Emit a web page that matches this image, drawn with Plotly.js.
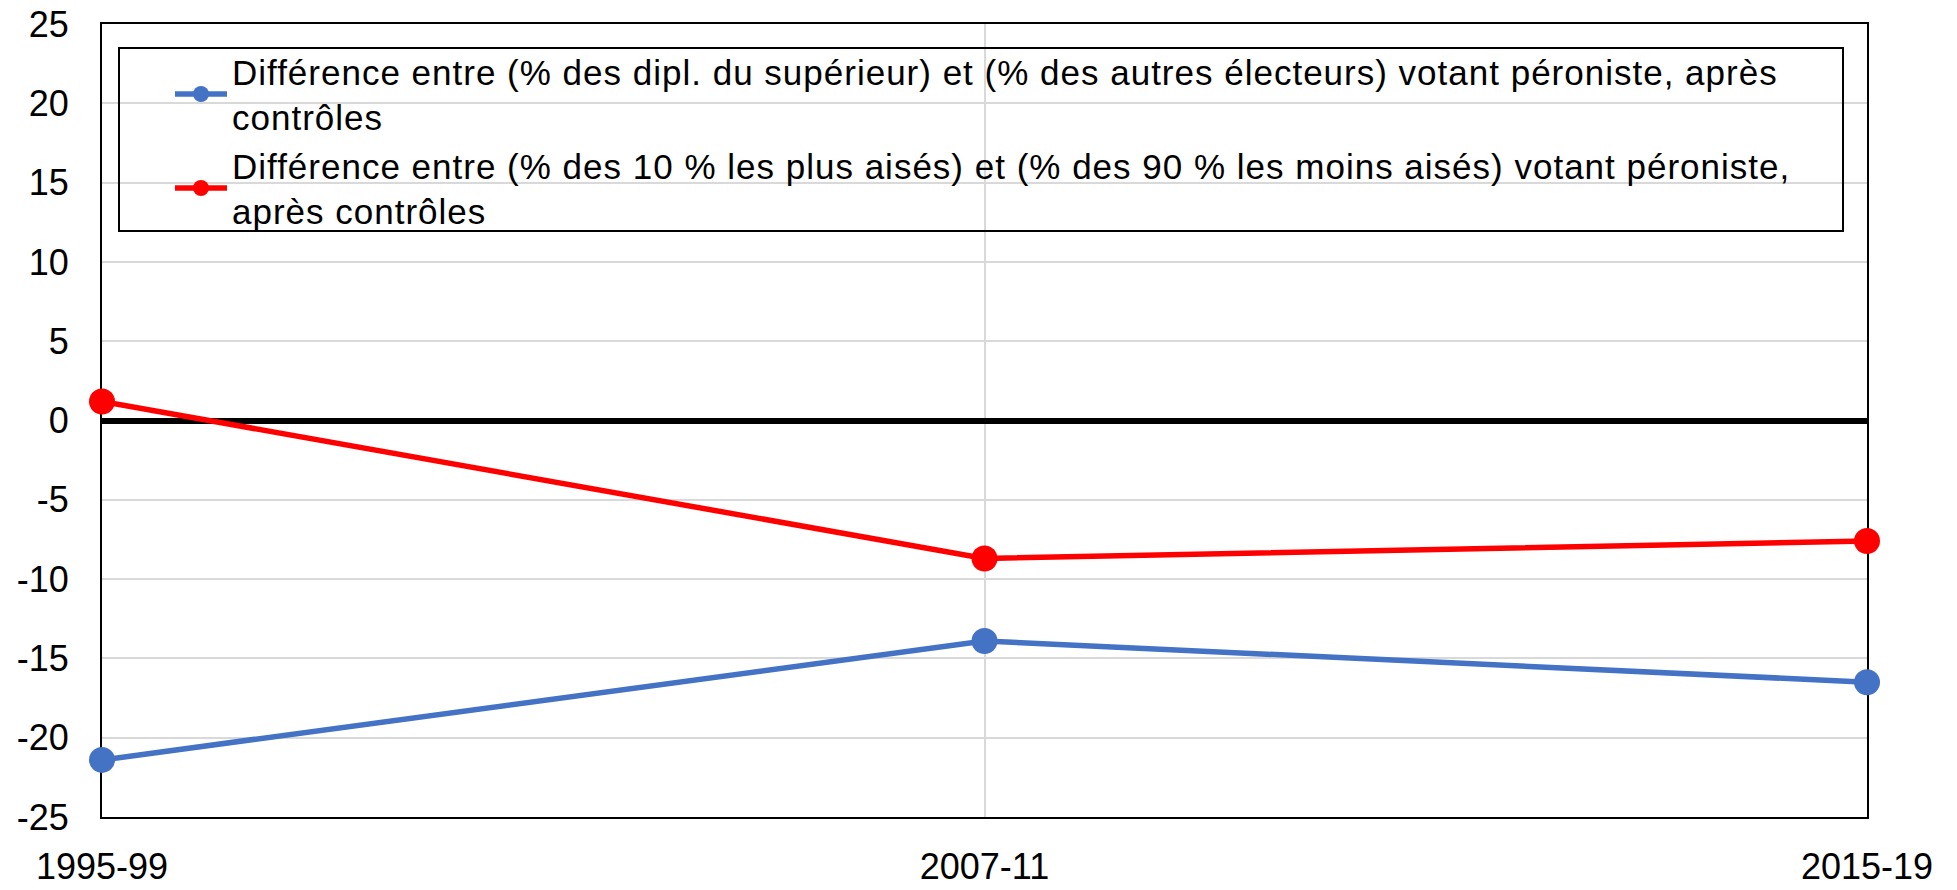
<!DOCTYPE html>
<html>
<head>
<meta charset="utf-8">
<script src="https://cdn.plot.ly/plotly-3.0.1.min.js"></script>
<style>
html,body{margin:0;padding:0;background:#fff;}
#chart{width:1957px;height:890px;}
.legendtext{letter-spacing:1px;}
</style>
</head>
<body>
<div id="chart"></div>
<script>
const categories = ['1995-99', '2007-11', '2015-19'];
const diplomesValues = [-21.4, -13.9, -16.5];
const top10Values = [1.2, -8.7, -7.6];
const seriesNames = [
  'Différence entre (% des dipl. du supérieur) et (% des autres électeurs) votant péroniste, après<br>contrôles',
  'Différence entre (% des 10 % les plus aisés) et (% des 90 % les moins aisés) votant péroniste,<br>après contrôles'
];
const yTicks = [-25, -20, -15, -10, -5, 0, 5, 10, 15, 20, 25];

const W = 1957, H = 890;
const L = 102, R = 1867, T = 24, B = 817;
const px = x => (x - L) / (R - L);
const py = y => (B - y) / (B - T);

const traces = [
  {
    x: categories, y: diplomesValues, name: seriesNames[0],
    type: 'scatter', mode: 'lines+markers', cliponaxis: false,
    line: {color: '#4472C4', width: 5.5},
    marker: {color: '#4472C4', size: 26}
  },
  {
    x: categories, y: top10Values, name: seriesNames[1],
    type: 'scatter', mode: 'lines+markers', cliponaxis: false,
    line: {color: '#FF0000', width: 5.5},
    marker: {color: '#FF0000', size: 26}
  }
];

const layout = {
  width: W, height: H,
  margin: {l: L, r: W - R, t: T, b: H - B, pad: 0},
  paper_bgcolor: '#fff', plot_bgcolor: '#fff',
  font: {family: 'Liberation Sans, Arial, sans-serif', size: 36, color: '#000'},
  showlegend: true,
  legend: {
    x: px(170), y: py(42), xanchor: 'left', yanchor: 'top',
    bgcolor: 'rgba(0,0,0,0)', borderwidth: 0, itemwidth: 52,
    font: {family: 'Liberation Sans, Arial, sans-serif', size: 35, color: '#000'},
    tracegroupgap: 0
  },
  xaxis: {
    type: 'category', range: [0, 2],
    showgrid: true, gridcolor: '#d9d9d9', gridwidth: 2,
    showline: true, linecolor: '#000', linewidth: 2, mirror: true,
    ticks: '', ticklabelstandoff: 17,
    tickfont: {size: 36, color: '#000'},
    layer: 'below traces', fixedrange: true
  },
  yaxis: {
    range: [-25, 25], tickvals: yTicks, ticktext: yTicks.map(String),
    showgrid: true, gridcolor: '#d9d9d9', gridwidth: 2,
    zeroline: true, zerolinecolor: '#000', zerolinewidth: 6,
    showline: true, linecolor: '#000', linewidth: 2, mirror: true,
    ticks: '', ticklabelstandoff: 24,
    tickfont: {size: 36, color: '#000'},
    layer: 'below traces', fixedrange: true
  },
  shapes: [{
    type: 'rect', xref: 'paper', yref: 'paper',
    x0: px(119), x1: px(1843), y0: py(231), y1: py(48),
    line: {color: '#000', width: 2}, fillcolor: 'rgba(0,0,0,0)', layer: 'above'
  }]
};

Plotly.newPlot('chart', traces, layout, {displayModeBar: false, staticPlot: true});
</script>
</body>
</html>
